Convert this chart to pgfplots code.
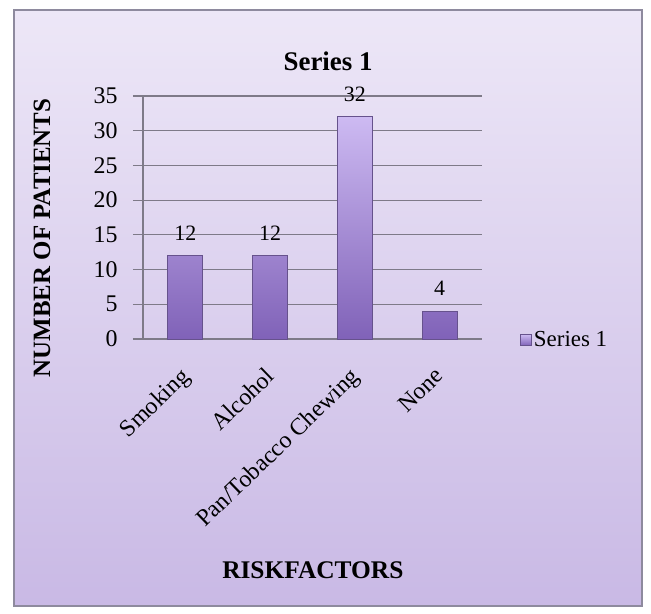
\documentclass[border=0pt]{standalone}
\usepackage{pgfplots}
\pgfplotsset{compat=1.18}
\usepackage{fontspec}
\setmainfont{Liberation Serif}

\definecolor{bgtop}{HTML}{EDE7F7}
\definecolor{bgbot}{HTML}{C9B9E5}
\definecolor{frame}{HTML}{8E8A9E}
\definecolor{gridc}{HTML}{7E7A88}
\definecolor{bartop}{HTML}{CDBAF2}
\definecolor{barbot}{HTML}{8062B8}
\definecolor{baredge}{HTML}{66528C}

\pgfplotstableread{
idx value
0 12
1 12
2 32
3 4
}\riskdata

\begin{document}
\begin{tikzpicture}[x=1bp,y=1bp]
  % canvas and chart area; the axis box sits with its lower-left corner at the origin
  \fill[white] (-143,-275) rectangle (508,339);
  \shade[top color=bgtop, bottom color=bgbot] (-129,-267) rectangle (499,329);
  \draw[frame, line width=1.5bp] (-129,-267) rectangle (499,329);

  \begin{axis}[
    scale only axis, width=339bp, height=243bp,
    xmin=-0.5, xmax=3.5, ymin=0, ymax=35,
    ytick={0,5,...,35},
    xtick=data,
    xticklabels={Smoking,Alcohol,Pan/Tobacco Chewing,None},
    axis lines*=left,
    axis line style={gridc, line width=1.2bp},
    ymajorgrids,
    major grid style={gridc, line width=1.2bp},
    tick align=outside,
    ytick style={gridc, line width=1.2bp},
    major tick length=10bp,
    xtick style={draw=none},
    tick label style={text=black},
    yticklabel style={font=\fontsize{24}{26}\selectfont, xshift=-12bp},
    /pgf/number format/assume math mode=true,
    xticklabel style={font=\fontsize{24}{26}\selectfont, xshift=-6bp, yshift=-17bp, rotate=44, anchor=north east, inner sep=0pt},
    title={\textbf{Series 1}},
    title style={font=\fontsize{27}{30}\selectfont, at={(axis description cs:0.546,1.12)}, anchor=center},
    ylabel={\textbf{NUMBER OF PATIENTS}},
    ylabel style={font=\fontsize{25}{28}\selectfont, at={(axis description cs:-0.298,0.416)}, anchor=center},
    xlabel={\textbf{RISKFACTORS}},
    xlabel style={font=\fontsize{25.5}{28}\selectfont, at={(axis description cs:0.501,-0.951)}, anchor=center},
    legend style={draw=none, fill=none, at={(axis description cs:1.112,-0.004)}, anchor=west,
      font=\fontsize{23}{26}\selectfont, inner sep=0pt},
    legend image code/.code={
      \shade[top color=bartop, bottom color=barbot] (0bp,-5.5bp) rectangle (11bp,5.5bp);
    },
    clip=false,
  ]
    \addplot[ybar, bar width=35bp, top color=bartop, bottom color=barbot,
      draw=baredge, line width=0.8bp,
      nodes near coords,
      nodes near coords style={font=\fontsize{22}{24}\selectfont, text=black,
        anchor=south, inner sep=0pt, yshift=15bp}]
      table[x=idx, y=value] {\riskdata};
    \addlegendentry{Series 1}
  \end{axis}
\end{tikzpicture}
\end{document}
